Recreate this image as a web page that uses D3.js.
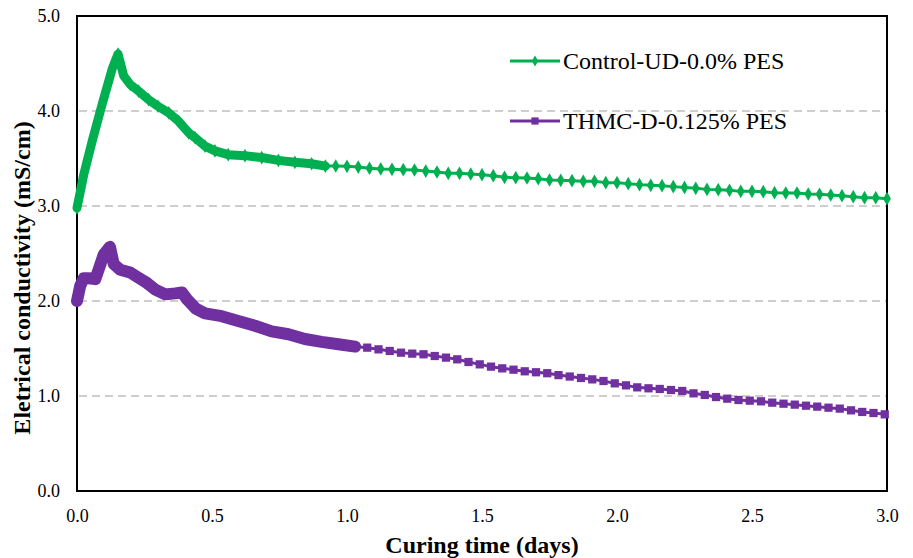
<!DOCTYPE html>
<html>
<head>
<meta charset="utf-8">
<script src="https://cdn.jsdelivr.net/npm/d3@7"></script>
<style>
  html, body { margin: 0; padding: 0; background: #fff; }
  svg { display: block; }
  svg text { font-family: "Liberation Serif", "Times New Roman", serif; }
</style>
</head>
<body>
<div id="chart"></div>
<script>
// Control-UD-0.0% PES : dense logging for the first day (days, mS/cm)
const controlDenseDays = [0, 0.025, 0.056, 0.093, 0.13, 0.152, 0.173, 0.197, 0.228, 0.265, 0.30, 0.34,
  0.377, 0.414, 0.437, 0.474, 0.511, 0.56, 0.622, 0.684, 0.746, 0.807, 0.869, 0.92];
const controlDenseEC = [2.98, 3.33, 3.68, 4.07, 4.44, 4.60, 4.37, 4.28, 4.21, 4.12, 4.05, 3.98,
  3.89, 3.77, 3.72, 3.63, 3.58, 3.54, 3.53, 3.51, 3.48, 3.46, 3.445, 3.42];
// then one reading per hour, starting at hour 23
const controlHourlyStart = 23;
const controlHourlyEC = [3.421, 3.418, 3.41, 3.397, 3.39, 3.386, 3.382, 3.379, 3.368, 3.358, 3.344, 3.344,
  3.337, 3.33, 3.319, 3.302, 3.298, 3.295, 3.288, 3.274, 3.27, 3.267, 3.26, 3.26, 3.246, 3.246,
  3.235, 3.225, 3.218, 3.214, 3.204, 3.196, 3.186, 3.175, 3.172, 3.165, 3.154, 3.154, 3.151, 3.14,
  3.137, 3.137, 3.126, 3.123, 3.116, 3.109, 3.098, 3.088, 3.088, 3.077];

// THMC-D-0.125% PES
const thmcDenseDays = [0, 0.012, 0.025, 0.043, 0.068, 0.08, 0.099, 0.122, 0.136, 0.16, 0.197, 0.228,
  0.259, 0.29, 0.327, 0.364, 0.389, 0.407, 0.44, 0.474, 0.536, 0.597, 0.659, 0.721, 0.783, 0.844,
  0.906, 0.968, 1.03];
const thmcDenseEC = [2.0, 2.16, 2.24, 2.24, 2.23, 2.33, 2.49, 2.57, 2.39, 2.33, 2.30, 2.245,
  2.19, 2.12, 2.07, 2.08, 2.09, 2.02, 1.92, 1.87, 1.84, 1.79, 1.74, 1.68, 1.65, 1.60,
  1.57, 1.545, 1.52];
const thmcHourlyStart = 25.8;
const thmcHourlyEC = [1.509, 1.491, 1.474, 1.456, 1.446, 1.439, 1.421, 1.404, 1.386, 1.358, 1.333, 1.309,
  1.291, 1.277, 1.26, 1.25, 1.24, 1.22, 1.205, 1.19, 1.175, 1.158, 1.133, 1.112, 1.091, 1.081,
  1.074, 1.063, 1.053, 1.028, 1.011, 0.989, 0.972, 0.958, 0.951, 0.944, 0.930, 0.919, 0.909, 0.898,
  0.888, 0.877, 0.867, 0.849, 0.832, 0.821, 0.807];

const xTicks = [0, 0.5, 1.0, 1.5, 2.0, 2.5, 3.0];
const yTicks = [0, 1, 2, 3, 4, 5];
const gridTicks = [1, 2, 3, 4];

const seriesNames = ['Control-UD-0.0% PES', 'THMC-D-0.125% PES'];

const W = 913, H = 558;
const margin = { top: 16, right: 26, bottom: 67, left: 77 };
const serif = 'Liberation Serif';

const toPoints = (days, ec) => days.map((d, i) => ({ t: d, v: ec[i] }));
const hourly = (start, ec) => ec.map((v, i) => ({ t: (start + i) / 24, v }));

const series = [
  { name: seriesNames[0], color: '#00B050', marker: 'diamond', band: 9,
    dense: toPoints(controlDenseDays, controlDenseEC), hourly: hourly(controlHourlyStart, controlHourlyEC) },
  { name: seriesNames[1], color: '#7030A0', marker: 'square', band: 12,
    dense: toPoints(thmcDenseDays, thmcDenseEC), hourly: hourly(thmcHourlyStart, thmcHourlyEC) }
];

const svg = d3.select('#chart').append('svg')
  .attr('width', W)
  .attr('height', H);

const x = d3.scaleLinear().domain([0, 3]).range([margin.left, W - margin.right]);
const y = d3.scaleLinear().domain([0, 5]).range([H - margin.bottom, margin.top]);

// dashed gridlines
svg.append('g')
  .selectAll('line')
  .data(gridTicks)
  .enter().append('line')
  .attr('x1', x(0) + 2)
  .attr('x2', x(3))
  .attr('y1', d => y(d))
  .attr('y2', d => y(d))
  .attr('stroke', '#BFBFBF')
  .attr('stroke-width', 1.5)
  .attr('stroke-dasharray', '8,5');

// axes
const yAxis = svg.append('g')
  .attr('transform', `translate(${x(0)},0)`)
  .call(d3.axisLeft(y).tickValues(yTicks).tickFormat(d3.format('.1f')).tickSize(0).tickPadding(17));
yAxis.attr('font-family', serif);
yAxis.select('.domain').remove();
yAxis.selectAll('text').attr('font-size', 18).attr('fill', '#000');

const xAxis = svg.append('g')
  .attr('transform', `translate(0,${y(0)})`)
  .call(d3.axisBottom(x).tickValues(xTicks).tickFormat(d3.format('.1f')).tickSize(0).tickPadding(18));
xAxis.attr('font-family', serif);
xAxis.select('.domain').remove();
xAxis.selectAll('text').attr('font-size', 18).attr('fill', '#000');

// plot area frame
svg.append('rect')
  .attr('x', x(0))
  .attr('y', y(5))
  .attr('width', x(3) - x(0))
  .attr('height', y(0) - y(5))
  .attr('fill', 'none')
  .attr('stroke', '#000')
  .attr('stroke-width', 2);

const line = d3.line().x(d => x(d.t)).y(d => y(d.v));

const symbolFor = (m, size) => d3.symbol()
  .type(m === 'diamond' ? d3.symbolDiamond : d3.symbolSquare)
  .size(size)();

series.forEach(s => {
  const g = svg.append('g');
  // dense logging shows up as a thick band
  g.append('path')
    .datum(s.dense)
    .attr('d', line)
    .attr('fill', 'none')
    .attr('stroke', s.color)
    .attr('stroke-width', s.band)
    .attr('stroke-linejoin', 'round')
    .attr('stroke-linecap', 'round');
  g.append('path')
    .datum([s.dense[s.dense.length - 1]].concat(s.hourly))
    .attr('d', line)
    .attr('fill', 'none')
    .attr('stroke', s.color)
    .attr('stroke-width', 3)
    .attr('stroke-linejoin', 'round');
  g.selectAll('.mk')
    .data(s.dense.concat(s.hourly))
    .enter().append('path')
    .attr('class', 'mk')
    .attr('transform', d => `translate(${x(d.t)},${y(d.v)})`)
    .attr('d', symbolFor(s.marker, s.marker === 'diamond' ? 54 : 68))
    .attr('fill', s.color);
});

// legend
const legend = svg.append('g');
series.forEach((s, i) => {
  const ly = 61 + i * 60;
  legend.append('line')
    .attr('x1', 510).attr('x2', 560)
    .attr('y1', ly).attr('y2', ly)
    .attr('stroke', s.color)
    .attr('stroke-width', 3);
  legend.append('path')
    .attr('transform', `translate(535,${ly})`)
    .attr('d', symbolFor(s.marker, s.marker === 'diamond' ? 34 : 52))
    .attr('fill', s.color);
  legend.append('text')
    .attr('x', 563)
    .attr('y', ly + 8)
    .attr('font-family', serif)
    .attr('font-size', 24)
    .attr('fill', '#000')
    .text(s.name);
});

// axis titles
svg.append('text')
  .attr('x', (x(0) + x(3)) / 2)
  .attr('y', 553)
  .attr('text-anchor', 'middle')
  .attr('font-family', serif)
  .attr('font-size', 24)
  .attr('font-weight', 'bold')
  .text('Curing time (days)');

svg.append('text')
  .attr('transform', 'translate(30,278) rotate(-90)')
  .attr('text-anchor', 'middle')
  .attr('font-family', serif)
  .attr('font-size', 24)
  .attr('font-weight', 'bold')
  .text('Eletrical conductivity (mS/cm)');
</script>
</body>
</html>
